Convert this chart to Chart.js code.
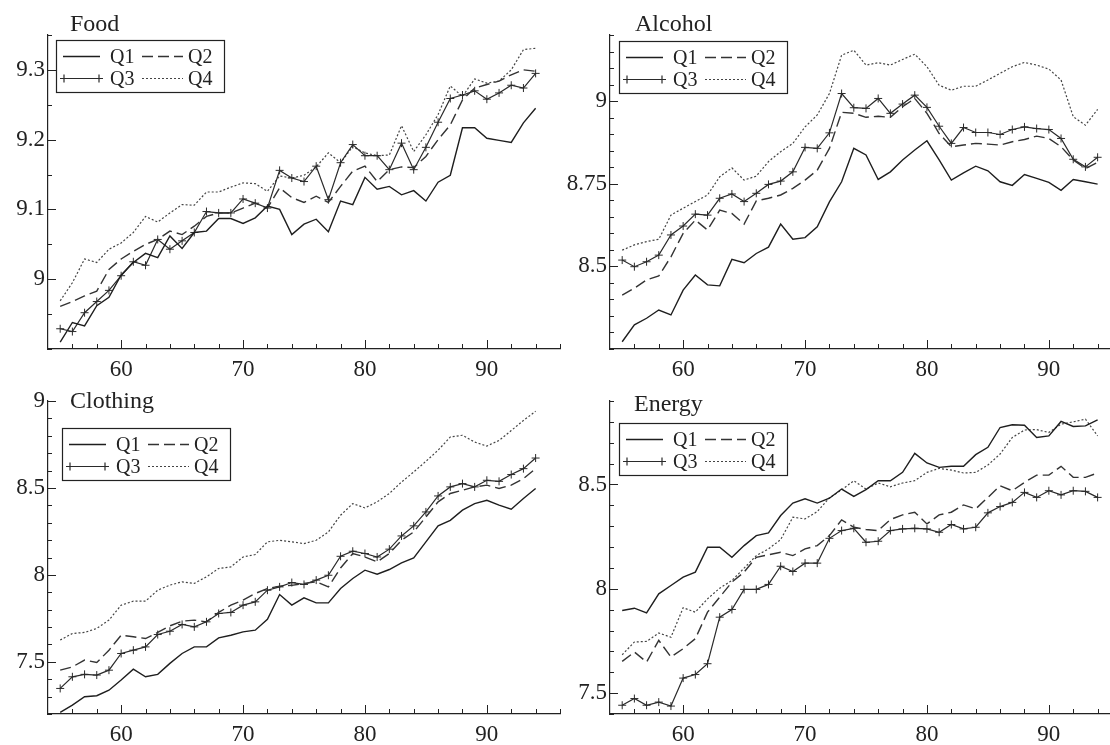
<!DOCTYPE html>
<html>
<head>
<meta charset="utf-8">
<script src="https://cdn.jsdelivr.net/npm/chart.js@4.4.1/dist/chart.umd.min.js"></script>
<style>
  html, body { margin: 0; padding: 0; background: #fff; }
  body { width: 1110px; height: 745px; overflow: hidden; position: relative; }
  canvas { position: absolute; }
</style>
</head>
<body>
<canvas id="foodChart" width="570" height="380" style="left:0px;top:0px"></canvas>
<canvas id="alcoholChart" width="570" height="380" style="left:562px;top:0px"></canvas>
<canvas id="clothingChart" width="570" height="365" style="left:0px;top:380px"></canvas>
<canvas id="energyChart" width="570" height="365" style="left:562px;top:380px"></canvas>
<script>
// years 1955..1994
var years = [];
for (var yr = 55; yr <= 94; yr++) years.push(yr);

var seriesNames = ["Q1", "Q2", "Q3", "Q4"];
var xTickLabels = [60, 70, 80, 90];

// Food
var foodQ1 = [8.910, 8.938, 8.933, 8.962, 8.974, 9.006, 9.024, 9.037, 9.031, 9.062, 9.044, 9.067, 9.069, 9.087, 9.087, 9.080, 9.088, 9.105, 9.100, 9.064,
              9.079, 9.086, 9.068, 9.112, 9.107, 9.146, 9.129, 9.133, 9.121, 9.127, 9.112, 9.139, 9.149, 9.217, 9.217, 9.202, 9.199, 9.196, 9.224, 9.245];
var foodQ2 = [8.961, 8.968, 8.976, 8.983, 9.014, 9.029, 9.040, 9.050, 9.057, 9.069, 9.064, 9.076, 9.090, 9.095, 9.095, 9.102, 9.109, 9.102, 9.131, 9.117,
              9.110, 9.119, 9.110, 9.133, 9.155, 9.162, 9.140, 9.157, 9.161, 9.160, 9.176, 9.200, 9.221, 9.257, 9.274, 9.279, 9.284, 9.293, 9.300, 9.298];
var foodQ3 = [8.929, 8.925, 8.952, 8.968, 8.984, 9.005, 9.025, 9.020, 9.057, 9.043, 9.055, 9.067, 9.097, 9.095, 9.095, 9.115, 9.109, 9.102, 9.156, 9.145,
              9.140, 9.162, 9.114, 9.167, 9.193, 9.177, 9.177, 9.157, 9.195, 9.157, 9.189, 9.225, 9.259, 9.264, 9.270, 9.258, 9.267, 9.278, 9.274, 9.295];
var foodQ4 = [8.969, 8.995, 9.029, 9.024, 9.043, 9.052, 9.067, 9.090, 9.082, 9.095, 9.107, 9.106, 9.125, 9.125, 9.132, 9.138, 9.137, 9.126, 9.148, 9.145,
              9.149, 9.161, 9.181, 9.167, 9.190, 9.181, 9.177, 9.178, 9.220, 9.183, 9.207, 9.236, 9.277, 9.262, 9.287, 9.281, 9.284, 9.300, 9.329, 9.331];
var foodTicks = [9, 9.1, 9.2, 9.3];

// Alcohol
var alcoholQ1 = [8.272, 8.323, 8.343, 8.368, 8.353, 8.428, 8.474, 8.444, 8.441, 8.521, 8.511, 8.539, 8.558, 8.628, 8.582, 8.587, 8.620, 8.695, 8.756, 8.857,
                 8.837, 8.763, 8.786, 8.822, 8.852, 8.880, 8.822, 8.761, 8.783, 8.803, 8.789, 8.756, 8.745, 8.778, 8.766, 8.754, 8.730, 8.763, 8.756, 8.749];
var alcoholQ2 = [8.413, 8.434, 8.459, 8.471, 8.529, 8.600, 8.640, 8.610, 8.670, 8.660, 8.628, 8.698, 8.706, 8.716, 8.736, 8.761, 8.791, 8.857, 8.966, 8.963,
                 8.951, 8.954, 8.951, 8.983, 9.008, 8.963, 8.902, 8.862, 8.867, 8.872, 8.870, 8.867, 8.877, 8.884, 8.894, 8.887, 8.862, 8.822, 8.796, 8.815];
var alcoholQ3 = [8.519, 8.499, 8.514, 8.534, 8.595, 8.622, 8.658, 8.655, 8.706, 8.719, 8.696, 8.721, 8.748, 8.758, 8.786, 8.860, 8.857, 8.904, 9.023, 8.980,
                 8.978, 9.008, 8.963, 8.991, 9.018, 8.981, 8.924, 8.872, 8.920, 8.905, 8.905, 8.899, 8.914, 8.922, 8.917, 8.914, 8.887, 8.824, 8.801, 8.830];
var alcoholQ4 = [8.549, 8.565, 8.575, 8.582, 8.655, 8.676, 8.696, 8.716, 8.771, 8.798, 8.761, 8.773, 8.817, 8.847, 8.872, 8.922, 8.958, 9.023, 9.139, 9.154,
                 9.109, 9.116, 9.109, 9.126, 9.142, 9.104, 9.048, 9.033, 9.045, 9.045, 9.064, 9.084, 9.104, 9.117, 9.109, 9.097, 9.064, 8.953, 8.927, 8.975];
var alcoholTicks = [8.5, 8.75, 9];

// Clothing
var clothingQ1 = [7.209, 7.251, 7.299, 7.305, 7.337, 7.395, 7.458, 7.414, 7.428, 7.491, 7.548, 7.586, 7.586, 7.638, 7.653, 7.672, 7.682, 7.745, 7.887, 7.826,
                  7.868, 7.839, 7.839, 7.922, 7.979, 8.027, 8.004, 8.031, 8.069, 8.098, 8.190, 8.282, 8.314, 8.372, 8.410, 8.429, 8.401, 8.378, 8.439, 8.497];
var clothingQ2 = [7.452, 7.471, 7.510, 7.496, 7.567, 7.653, 7.644, 7.634, 7.669, 7.707, 7.734, 7.740, 7.730, 7.784, 7.826, 7.855, 7.893, 7.922, 7.935, 7.940,
                  7.951, 7.960, 7.931, 8.040, 8.123, 8.103, 8.075, 8.123, 8.199, 8.247, 8.333, 8.420, 8.468, 8.487, 8.506, 8.516, 8.497, 8.516, 8.554, 8.611];
var clothingQ3 = [7.347, 7.414, 7.428, 7.424, 7.452, 7.548, 7.567, 7.586, 7.657, 7.676, 7.715, 7.701, 7.730, 7.778, 7.784, 7.826, 7.845, 7.912, 7.931, 7.956,
                  7.945, 7.970, 7.998, 8.107, 8.136, 8.123, 8.103, 8.148, 8.224, 8.282, 8.362, 8.454, 8.506, 8.525, 8.506, 8.544, 8.538, 8.577, 8.611, 8.672];
var clothingQ4 = [7.625, 7.663, 7.669, 7.692, 7.740, 7.826, 7.849, 7.849, 7.912, 7.941, 7.960, 7.951, 7.989, 8.037, 8.046, 8.103, 8.117, 8.190, 8.199, 8.190,
                  8.180, 8.199, 8.247, 8.343, 8.410, 8.385, 8.420, 8.468, 8.534, 8.592, 8.653, 8.717, 8.793, 8.803, 8.764, 8.741, 8.773, 8.830, 8.888, 8.941];
var clothingTicks = [7.5, 8, 8.5, 9];

// Energy
var energyQ1 = [7.896, 7.907, 7.885, 7.976, 8.016, 8.056, 8.080, 8.199, 8.199, 8.151, 8.207, 8.255, 8.268, 8.351, 8.411, 8.431, 8.411, 8.434, 8.478, 8.443,
                8.475, 8.518, 8.518, 8.558, 8.649, 8.603, 8.582, 8.587, 8.587, 8.643, 8.678, 8.773, 8.786, 8.784, 8.725, 8.733, 8.802, 8.778, 8.781, 8.809];
var energyQ2 = [7.652, 7.697, 7.649, 7.753, 7.673, 7.713, 7.761, 7.888, 7.960, 8.032, 8.080, 8.151, 8.163, 8.175, 8.159, 8.191, 8.207, 8.255, 8.330, 8.295,
                8.284, 8.279, 8.332, 8.354, 8.367, 8.311, 8.354, 8.367, 8.402, 8.383, 8.438, 8.494, 8.470, 8.510, 8.545, 8.545, 8.587, 8.534, 8.534, 8.555];
var energyQ3 = [7.442, 7.474, 7.442, 7.457, 7.438, 7.572, 7.589, 7.641, 7.864, 7.901, 7.997, 7.997, 8.021, 8.108, 8.083, 8.123, 8.123, 8.242, 8.279, 8.290,
                8.223, 8.228, 8.279, 8.287, 8.290, 8.287, 8.271, 8.308, 8.287, 8.295, 8.364, 8.394, 8.414, 8.462, 8.438, 8.470, 8.450, 8.470, 8.467, 8.438];
var energyQ4 = [7.684, 7.745, 7.748, 7.788, 7.768, 7.909, 7.888, 7.952, 8.003, 8.040, 8.099, 8.159, 8.191, 8.236, 8.343, 8.335, 8.370, 8.436, 8.474, 8.518,
                8.478, 8.507, 8.489, 8.507, 8.518, 8.558, 8.577, 8.569, 8.555, 8.558, 8.593, 8.646, 8.725, 8.761, 8.763, 8.749, 8.789, 8.800, 8.813, 8.733];
var energyTicks = [7.5, 8, 8.5];

var FONT = "'Liberation Serif', 'Times New Roman', serif";
var INK = "#222";

// line look of the four quarters
var styles = [
    { borderDash: [], borderWidth: 1.4, borderColor: "#1e1e1e", pointRadius: 0 },
    { borderDash: [11, 5], borderWidth: 1.4, borderColor: "#333", pointRadius: 0 },
    { borderDash: [], borderWidth: 1.2, borderColor: "#2a2a2a", pointRadius: 4, pointStyle: "cross" },
    { borderDash: [2, 2], borderWidth: 1.2, borderColor: "#444", pointRadius: 0 }
];

// small inward ticks, title and a boxed 2x2 legend
var panelDeco = {
    id: "panelDeco",
    afterDraw: function (chart, args, opts) {
        var ctx = chart.ctx, a = chart.chartArea;
        var xs = chart.scales.x, ys = chart.scales.y;
        ctx.save();
        ctx.strokeStyle = INK;
        ctx.lineWidth = 1;
        ctx.beginPath();
        // x ticks every 2 years, longer at labelled years
        for (var k = 0; ; k++) {
            var v = opts.xStart + k * 2;
            if (v > xs.max) break;
            var px = Math.round(xs.getPixelForValue(v)) + 0.5;
            var len = xTickLabels.indexOf(v) >= 0 ? 9 : 5;
            ctx.moveTo(px, a.bottom);
            ctx.lineTo(px, a.bottom - len);
        }
        // y ticks
        for (var j = 0; ; j++) {
            var yv = +(ys.min + j * opts.yMinor).toFixed(4);
            if (yv > ys.max + 1e-6) break;
            var py = Math.round(ys.getPixelForValue(yv)) + 0.5;
            var major = opts.yTicks.some(function (t) { return Math.abs(t - yv) < 1e-6; });
            ctx.moveTo(a.left, py);
            ctx.lineTo(a.left + (major ? 8 : 4), py);
        }
        ctx.stroke();

        // title
        ctx.fillStyle = INK;
        ctx.font = "24px " + FONT;
        ctx.textAlign = "left";
        ctx.textBaseline = "alphabetic";
        ctx.fillText(opts.title, a.left + opts.titleDx, a.top + opts.titleDy);

        // legend
        var lx = a.left + opts.legDx, ly = a.top + opts.legDy;
        ctx.fillStyle = "#fff";
        ctx.fillRect(lx, ly, 168, 52);
        ctx.lineWidth = 1.2;
        ctx.strokeStyle = INK;
        ctx.setLineDash([]);
        ctx.strokeRect(lx + 0.5, ly + 0.5, 168, 52);
        ctx.font = "20px " + FONT;
        ctx.textBaseline = "middle";
        chart.data.datasets.forEach(function (ds, i) {
            var col = i % 2, row = Math.floor(i / 2);
            var x0 = lx + (col ? 86 : 7), x1 = lx + (col ? 127 : 44);
            var yy = Math.round(ly + (row ? 37.5 : 16)) + 0.5;
            ctx.strokeStyle = ds.borderColor;
            ctx.lineWidth = ds.borderWidth;
            ctx.setLineDash(ds.borderDash || []);
            ctx.beginPath();
            ctx.moveTo(x0, yy);
            ctx.lineTo(x1, yy);
            ctx.stroke();
            ctx.setLineDash([]);
            if (ds.pointStyle === "cross") {
                ctx.beginPath();
                [x0 + 1, x1 - 1].forEach(function (cx) {
                    ctx.moveTo(cx - 4, yy); ctx.lineTo(cx + 4, yy);
                    ctx.moveTo(cx, yy - 4); ctx.lineTo(cx, yy + 4);
                });
                ctx.stroke();
            }
            ctx.fillStyle = INK;
            ctx.fillText(ds.label, lx + (col ? 132 : 54), yy + 1);
        });
        ctx.restore();
    }
};

function makePanel(canvasId, title, series, yMin, yMax, yTicks, yMinor, deco) {
    var datasets = series.map(function (vals, i) {
        var st = styles[i];
        return {
            label: seriesNames[i],
            data: years.map(function (x, k) { return { x: x, y: vals[k] }; }),
            borderColor: st.borderColor,
            backgroundColor: st.borderColor,
            borderWidth: st.borderWidth,
            borderDash: st.borderDash,
            pointRadius: st.pointRadius,
            pointStyle: st.pointStyle || "circle",
            pointBorderWidth: 1,
            pointBorderColor: st.borderColor,
            tension: 0,
            fill: false
        };
    });
    var ctx = document.getElementById(canvasId).getContext("2d");
    return new Chart(ctx, {
        type: "line",
        data: { datasets: datasets },
        options: {
            responsive: false,
            animation: false,
            devicePixelRatio: 1,
            layout: { padding: { top: deco.padTop, right: 10, left: 0, bottom: 0 } },
            plugins: {
                legend: { display: false },
                tooltip: { enabled: false },
                panelDeco: {
                    title: title, xStart: 56, yMinor: yMinor, yTicks: yTicks,
                    titleDx: deco.titleDx, titleDy: deco.titleDy,
                    legDx: deco.legDx, legDy: deco.legDy
                }
            },
            scales: {
                x: {
                    type: "linear",
                    min: 54,
                    max: 96,
                    grid: { display: false, drawTicks: false },
                    border: { display: true, color: INK, width: 1.2 },
                    afterBuildTicks: function (s) { s.ticks = xTickLabels.map(function (v) { return { value: v }; }); },
                    afterFit: function (s) { s.height = 31; },
                    ticks: { color: INK, font: { family: FONT, size: 23 }, padding: 7, maxRotation: 0 }
                },
                y: {
                    min: yMin,
                    max: yMax,
                    grid: { display: false, drawTicks: false },
                    border: { display: true, color: INK, width: 1.2 },
                    afterBuildTicks: function (s) { s.ticks = yTicks.map(function (v) { return { value: v }; }); },
                    afterFit: function (s) { s.width = 48; },
                    ticks: {
                        color: INK, font: { family: FONT, size: 23 }, padding: 3,
                        callback: function (v) { return String(+v.toFixed(3)); }
                    }
                }
            }
        },
        plugins: [panelDeco]
    });
}

makePanel("foodChart", "Food", [foodQ1, foodQ2, foodQ3, foodQ4], 8.9, 9.35, foodTicks, 0.05,
    { padTop: 35, titleDx: 22, titleDy: -4, legDx: 8, legDy: 5 });
makePanel("alcoholChart", "Alcohol", [alcoholQ1, alcoholQ2, alcoholQ3, alcoholQ4], 8.25, 9.2, alcoholTicks, 0.05,
    { padTop: 35, titleDx: 25, titleDy: -4, legDx: 9, legDy: 6 });
makePanel("clothingChart", "Clothing", [clothingQ1, clothingQ2, clothingQ3, clothingQ4], 7.2, 9.0, clothingTicks, 0.1,
    { padTop: 21, titleDx: 22, titleDy: 7, legDx: 14, legDy: 27 });
makePanel("energyChart", "Energy", [energyQ1, energyQ2, energyQ3, energyQ4], 7.4, 8.9, energyTicks, 0.1,
    { padTop: 21, titleDx: 24, titleDy: 10, legDx: 9, legDy: 22 });
</script>
</body>
</html>
